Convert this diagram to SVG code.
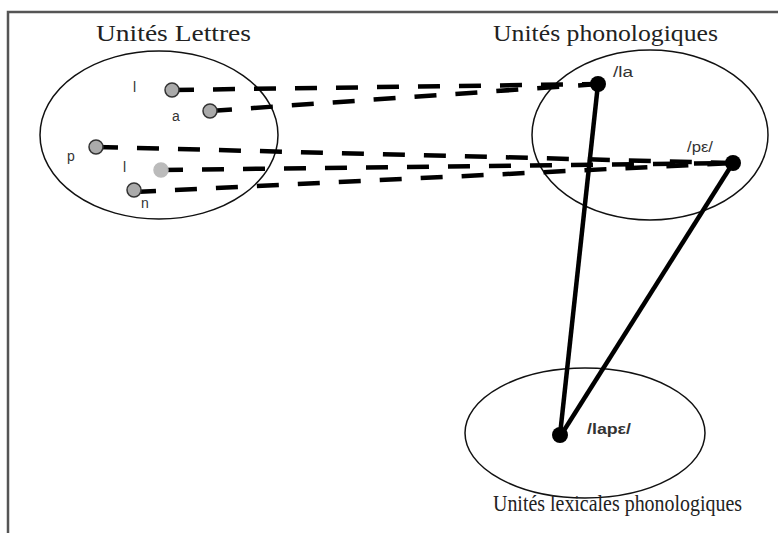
<svg xmlns="http://www.w3.org/2000/svg" width="778" height="533" viewBox="0 0 778 533">
<style>
.title{font-family:"Liberation Serif",serif;font-size:23px;fill:#222}
.lab{font-family:"Liberation Sans",sans-serif;font-size:14px;fill:#333}
.set{fill:none;stroke:#111;stroke-width:1.5}
.dash{stroke:#000;stroke-width:4.5;stroke-dasharray:22 19;fill:none}
.solid{stroke:#000;stroke-width:4.5;fill:none}
.ldot{fill:#aaa;stroke:#333;stroke-width:1.5}
.pdot{fill:#000}
</style>
<rect width="778" height="533" fill="#fff"/>
<path d="M8,533 V12 H778" fill="none" stroke="#555" stroke-width="2.5"/>
<g id="set-lettres">
<ellipse class="set" cx="159" cy="135" rx="119" ry="84"/>
<text class="title" x="96" y="41" textLength="155" lengthAdjust="spacingAndGlyphs">Unités Lettres</text>
</g>
<g id="set-phono">
<ellipse class="set" cx="650" cy="135" rx="118" ry="85"/>
<text class="title" x="493" y="41" textLength="225" lengthAdjust="spacingAndGlyphs">Unités phonologiques</text>
</g>
<g id="set-lexical">
<ellipse class="set" cx="585" cy="433" rx="120" ry="65"/>
<text class="title" x="493" y="511" font-size="21" textLength="249" lengthAdjust="spacingAndGlyphs">Unités lexicales phonologiques</text>
</g>
<g id="connectors">
<path class="dash" d="M172,90 L598,84"/>
<path class="dash" d="M210,111 L598,84"/>
<path class="dash" d="M96,147 L733,163"/>
<path class="dash" d="M161,170 L733,163"/>
<path class="dash" d="M134,192 L733,163"/>
<path class="solid" d="M598,84 L560,435"/>
<path class="solid" d="M733,163 L563,432"/>
</g>
<g id="node-l1"><circle class="ldot" cx="172" cy="90" r="7"/><text class="lab" x="133" y="92">l</text></g>
<g id="node-a"><circle class="ldot" cx="210" cy="111" r="7"/><text class="lab" x="172" y="121">a</text></g>
<g id="node-p"><circle class="ldot" cx="96" cy="147" r="7"/><text class="lab" x="67" y="161">p</text></g>
<g id="node-l2"><circle cx="161" cy="170" r="7" fill="#bbb" stroke="#bbb" stroke-width="1.5"/><text class="lab" x="123" y="172" fill="#999">l</text></g>
<g id="node-n"><circle class="ldot" cx="134" cy="190" r="7"/><text class="lab" x="141" y="208">n</text></g>
<g id="node-la"><circle class="pdot" cx="598" cy="84" r="8"/><text class="lab" x="613" y="77" textLength="20" lengthAdjust="spacingAndGlyphs">/la</text></g>
<g id="node-pe"><circle class="pdot" cx="733" cy="163" r="8"/><text class="lab" x="687" y="152" textLength="26" lengthAdjust="spacingAndGlyphs">/pε/</text></g>
<g id="node-lape"><circle class="pdot" cx="560" cy="435" r="8"/><text class="lab" x="587" y="434" font-weight="bold" textLength="44" lengthAdjust="spacingAndGlyphs">/lapε/</text></g>
</svg>
